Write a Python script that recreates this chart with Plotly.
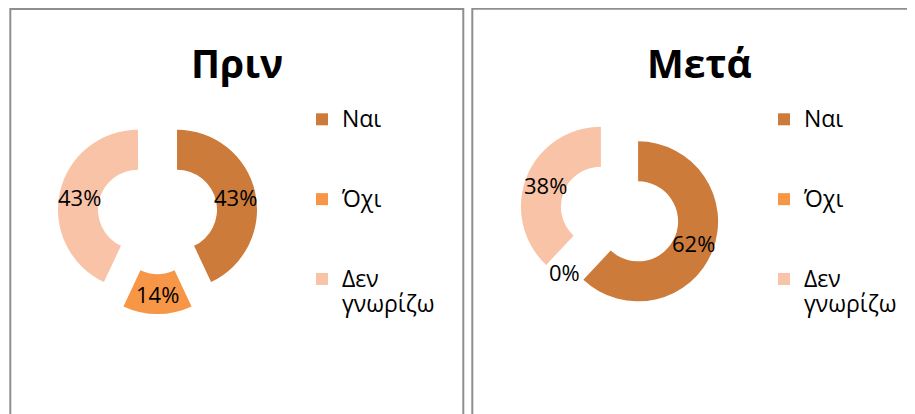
import math
import plotly.graph_objects as go

W, H = 915, 414
OFF = 8  # page body margin

categories = ["Ναι", "Όχι", "Δεν γνωρίζω"]
before_values = [43, 14, 43]
after_values = [62, 0, 38]
titles = ["Πριν", "Μετά"]
colors = ["#CC7B3A", "#F79646", "#F9C3A7"]

FONT = "Open Sans"
LEG_FS = 19.7
LEG_TXT = 23
HOLE = 0.5
PULL = 0.25
PIE_SIZE = 200
PIE_CENTERS = [(157.5, 214), (619.5, 214)]
TITLE_X = [237, 699]


def legend_label(c, last, suffix=""):
    txt = "<br>".join(f"<span style='font-size:{LEG_TXT}px'>{w}</span>" for w in c.split(" "))
    if not last:
        txt += "<br> <br> "
    return txt + suffix


def px_x(x):
    return (x - OFF) / W


def px_y(y):
    return 1 - (y - OFF) / H


def dom(cx, cy, size):
    return dict(x=[px_x(cx - size / 2), px_x(cx + size / 2)],
                y=[px_y(cy + size / 2), px_y(cy - size / 2)])


def slice_labels(values, cx, cy):
    """Percent labels at the middle of each pulled ring segment (derived from the data)."""
    total = sum(values)
    r = PIE_SIZE / 2 / (1 + PULL)
    rad = PULL * r + r * (1 + HOLE) / 2
    out = []
    cum = 0
    for v in values:
        mid = 2 * math.pi * (cum + v / 2) / total
        cum += v
        out.append(dict(text=f"{v}%", x=px_x(cx + rad * math.sin(mid)), y=px_y(cy - rad * math.cos(mid)),
                        xref="paper", yref="paper", xanchor="center", yanchor="middle",
                        showarrow=False, font=dict(family=FONT, size=22, color="#000000")))
    return out


fig = go.Figure()

common = dict(
    hole=HOLE,
    sort=False,
    direction="clockwise",
    rotation=0,
    pull=[PULL] * len(categories),
    marker=dict(colors=colors, line=dict(width=0)),
    textinfo="none",
    hoverinfo="percent",
)

series = [before_values, after_values]
legends = ["legend", "legend2"]
annotations = []
for k, (vals, (cx, cy)) in enumerate(zip(series, PIE_CENTERS)):
    labels = [legend_label(c, i == len(categories) - 1, "\u200b" * k) for i, c in enumerate(categories)]
    fig.add_trace(go.Pie(labels=labels, values=vals, domain=dom(cx, cy, PIE_SIZE),
                         legend=legends[k], **common))
    annotations += slice_labels(vals, cx, cy)

for t, cx in zip(titles, TITLE_X):
    annotations.append(dict(text=f"<b>{t}</b>", x=px_x(cx), y=px_y(62), xref="paper", yref="paper",
                            xanchor="center", yanchor="middle", showarrow=False,
                            font=dict(family=FONT, size=39, color="#000000")))

leg_common = dict(
    font=dict(family=FONT, size=LEG_FS, color="#000000"),
    bgcolor="rgba(0,0,0,0)",
    valign="top",
    xanchor="left",
    yanchor="top",
    traceorder="normal",
)

shapes = []
for x0, x1, y0 in [(10.3, 463.3, 9), (472.3, 940, 8.7)]:
    shapes.append(dict(type="rect", xref="paper", yref="paper",
                       x0=px_x(x0), x1=px_x(x1), y0=px_y(y0), y1=px_y(440),
                       line=dict(color="#8E8E8E", width=2), fillcolor="rgba(0,0,0,0)"))

fig.update_layout(
    width=W, height=H,
    margin=dict(l=0, r=0, t=0, b=0),
    paper_bgcolor="#FFFFFF",
    plot_bgcolor="#FFFFFF",
    legend=dict(x=px_x(302), y=px_y(100), **leg_common),
    legend2=dict(x=px_x(764), y=px_y(100), **leg_common),
    shapes=shapes,
    annotations=annotations,
    showlegend=True,
)

fig.write_html("out.html")
